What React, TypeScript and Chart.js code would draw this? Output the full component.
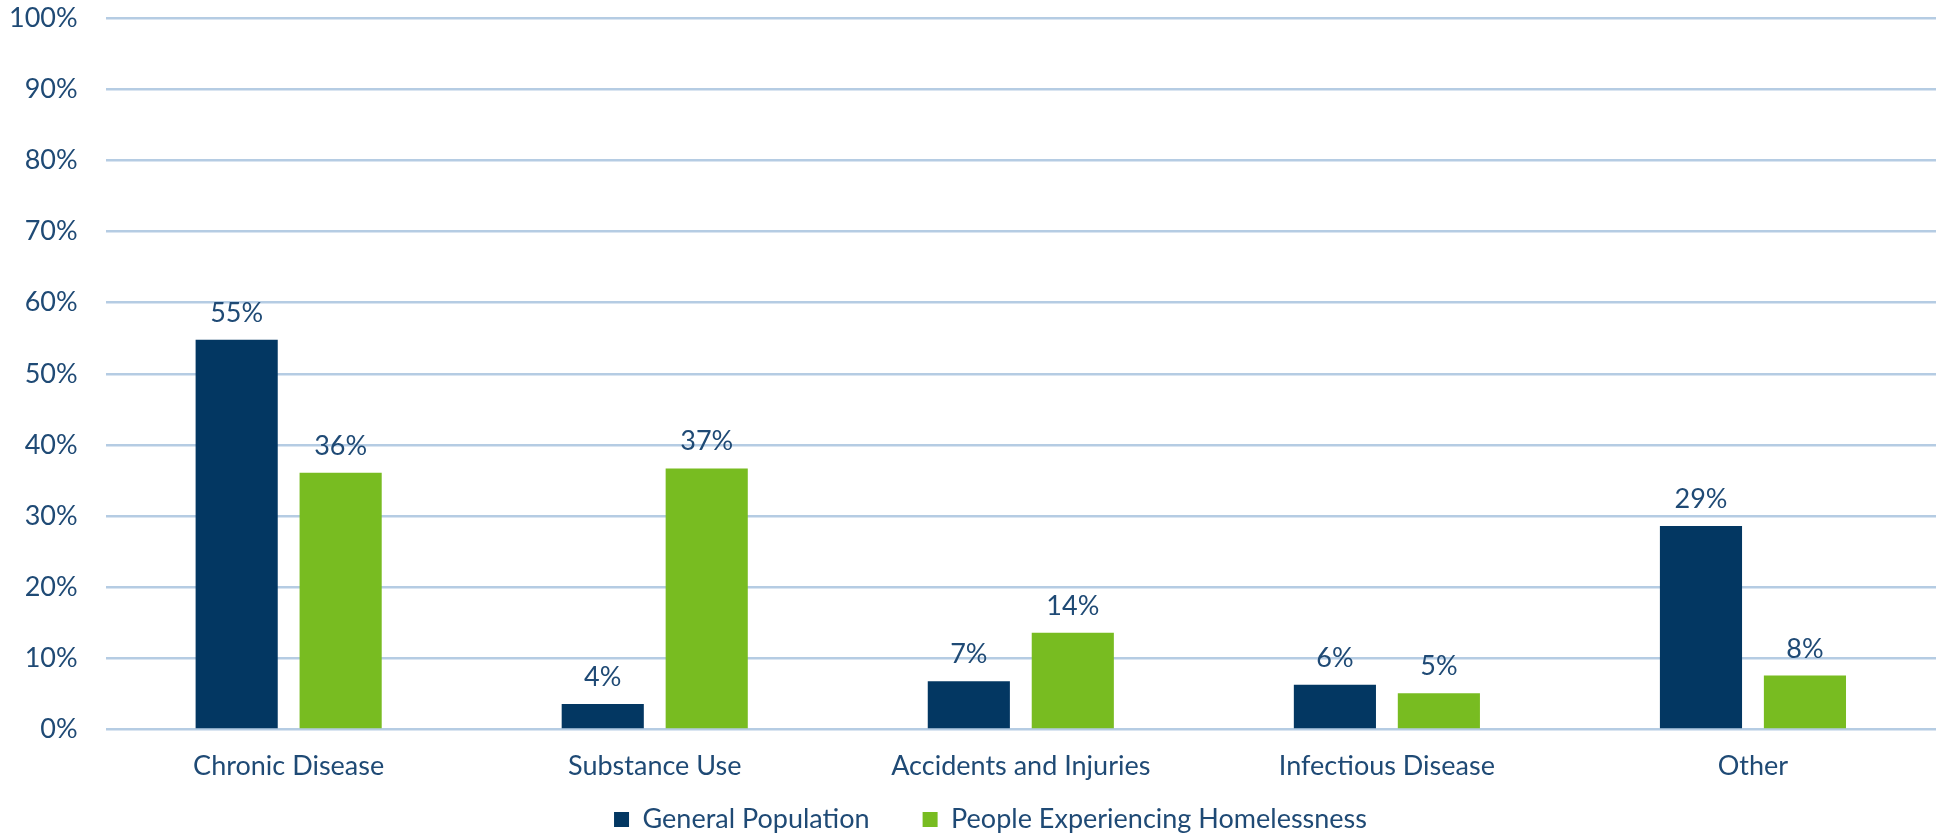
import React, { useEffect, useRef } from "react";
import { Chart, registerables } from "chart.js";

Chart.register(...registerables);

const categories = ["Chronic Disease", "Substance Use", "Accidents and Injuries", "Infectious Disease", "Other"];
const generalPopulation = [54.8, 3.6, 6.8, 6.3, 28.6];
const homelessness = [36.1, 36.7, 13.6, 5.1, 7.6];
const seriesNames = ["General Population", "People Experiencing Homelessness"];

const TEXT = "#1F4A75";
const FONT = "Lato, 'Open Sans', sans-serif";
const FS = 27;
const LEGEND_GAP = 53;
const LEGEND_H = 36;
const LEGEND_SHIFT = 49;
const LEGEND_XSHIFT = 32;

const valueLabels = {
  id: "valueLabels",
  afterDatasetsDraw(chart: any) {
    const ctx = chart.ctx;
    ctx.save();
    ctx.font = `${FS}px ${FONT}`;
    ctx.fillStyle = TEXT;
    ctx.textAlign = "center";
    ctx.textBaseline = "alphabetic";
    chart.data.datasets.forEach((ds: any, i: number) => {
      const meta = chart.getDatasetMeta(i);
      meta.data.forEach((bar: any, j: number) => {
        ctx.fillText(Math.round(ds.data[j]) + "%", bar.x, bar.y - 18);
      });
    });
    ctx.restore();
  },
};

// Keeps the wide horizontal spacing between legend items without the matching vertical padding
const legendSpacing = {
  id: "legendSpacing",
  beforeLayout(chart: any) {
    const lg = chart.legend;
    if (lg && !lg._patched) {
      const orig = lg.fit.bind(lg);
      lg.fit = function () {
        orig();
        this.height = LEGEND_H;
      };
      lg._patched = true;
    }
  },
  afterLayout(chart: any) {
    const lg = chart.legend;
    if (lg) {
      lg.top -= LEGEND_SHIFT;
      lg.bottom = chart.height;
      lg.left += LEGEND_XSHIFT;
      lg.right += LEGEND_XSHIFT;
    }
  },
};

export default function App() {
  const ref = useRef<HTMLCanvasElement>(null);
  useEffect(() => {
    document.body.style.margin = "0";
    const chart = new Chart(ref.current!, {
      type: "bar",
      data: {
        labels: categories,
        datasets: [
          { label: seriesNames[0], data: generalPopulation, backgroundColor: "#033762" },
          { label: seriesNames[1], data: homelessness, backgroundColor: "#78BC21" },
        ],
      },
      options: {
        animation: false,
        responsive: false,
        maintainAspectRatio: false,
        datasets: { bar: { categoryPercentage: 0.568, barPercentage: 0.79 } } as any,
        layout: { padding: { left: -19, top: 18, right: 0, bottom: 0 } },
        scales: {
          x: {
            grid: { display: false, drawTicks: false },
            border: { display: false },
            ticks: { color: TEXT, font: { family: FONT, size: FS }, padding: 20 },
          },
          y: {
            min: 0,
            max: 100,
            ticks: {
              stepSize: 10,
              color: TEXT,
              font: { family: FONT, size: FS },
              padding: 28,
              callback: (v: any) => v + "%",
            },
            afterFit: (scale: any) => {
              scale.paddingTop = 0;
              scale.paddingBottom = 0;
            },
            grid: { color: "#B5CCE3", lineWidth: 2.5, drawTicks: false },
            border: { display: false },
          },
        },
        plugins: {
          legend: {
            position: "bottom",
            labels: {
              color: TEXT,
              font: { family: FONT, size: FS },
              boxWidth: 15,
              boxHeight: 15,
              padding: LEGEND_GAP,
            },
          },
          tooltip: { enabled: false },
        },
      },
      plugins: [legendSpacing, valueLabels],
    });
    return () => chart.destroy();
  }, []);
  return (
    <div style={{ width: 1936, height: 838, overflow: "hidden" }}>
      <canvas ref={ref} width={1936} height={838} style={{ display: "block" }} />
    </div>
  );
}
